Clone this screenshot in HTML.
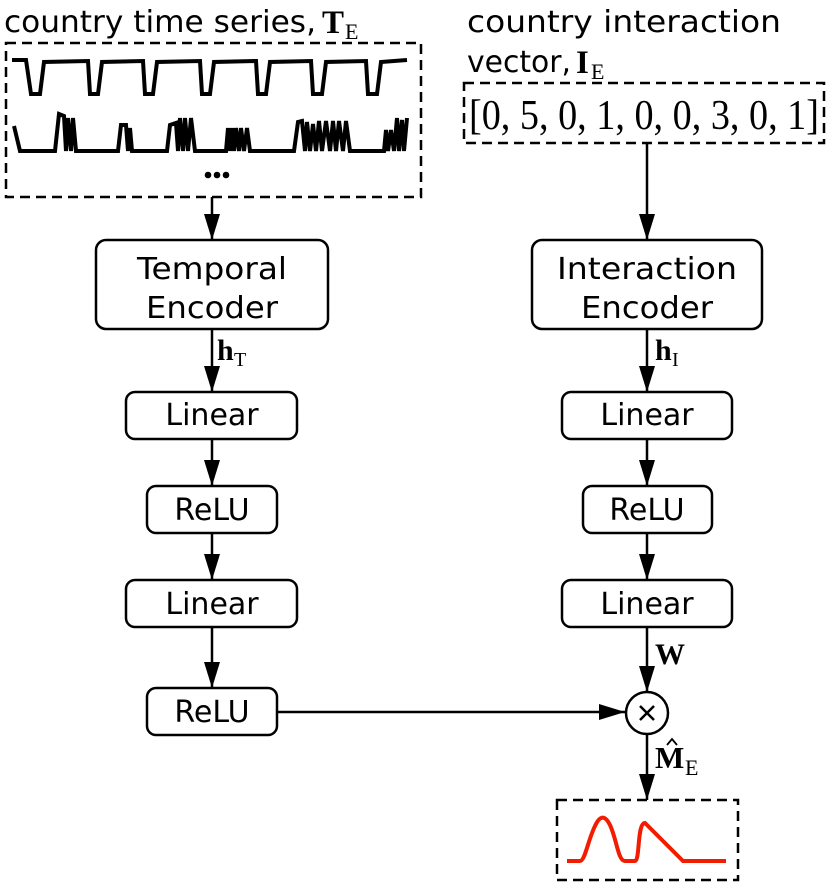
<!DOCTYPE html>
<html><head><meta charset="utf-8"><style>
html,body{margin:0;padding:0;background:#fff;}
svg{display:block;}
.s{font-family:"DejaVu Sans","Liberation Sans",sans-serif;font-size:30px;fill:#000;}
.m{font-family:"Liberation Serif",serif;fill:#000;}
</style></head><body>
<svg width="830" height="884" viewBox="0 0 830 884" xmlns="http://www.w3.org/2000/svg">
<defs>
<marker id="b" markerWidth="26" markerHeight="16" refX="26" refY="8" orient="auto" markerUnits="userSpaceOnUse"><path d="M0,0 L26,8 L0,16z" fill="#000"/></marker></defs>
<g fill="none" stroke="#000" stroke-width="2.5">
<rect x="6" y="43" width="415" height="154" stroke-dasharray="10,6"/>
<rect x="96" y="240" width="232" height="89" rx="10"/>
<rect x="126" y="392" width="171" height="47" rx="9"/>
<rect x="147" y="486" width="130" height="47" rx="9"/>
<rect x="126" y="580" width="171" height="47" rx="9"/>
<rect x="147" y="688" width="130" height="47" rx="9"/>
<line x1="212" y1="197" x2="212" y2="240" marker-end="url(#b)"/>
<line x1="212" y1="329" x2="212" y2="392" marker-end="url(#b)"/>
<line x1="212" y1="439" x2="212" y2="486" marker-end="url(#b)"/>
<line x1="212" y1="533" x2="212" y2="580" marker-end="url(#b)"/>
<line x1="212" y1="627" x2="212" y2="688" marker-end="url(#b)"/>
<line x1="277" y1="712" x2="625" y2="712" marker-end="url(#b)"/>
<rect x="464" y="83" width="360" height="60" stroke-dasharray="10,6"/>
<rect x="532" y="240" width="230" height="89" rx="10"/>
<rect x="562" y="392" width="170" height="47" rx="9"/>
<rect x="583" y="486" width="129" height="47" rx="9"/>
<rect x="562" y="580" width="170" height="47" rx="9"/>
<circle cx="647" cy="713" r="21"/>
<line x1="647" y1="143" x2="647" y2="240" marker-end="url(#b)"/>
<line x1="647" y1="329" x2="647" y2="392" marker-end="url(#b)"/>
<line x1="647" y1="439" x2="647" y2="486" marker-end="url(#b)"/>
<line x1="647" y1="533" x2="647" y2="580" marker-end="url(#b)"/>
<line x1="647" y1="627" x2="647" y2="692" marker-end="url(#b)"/>
<line x1="647" y1="734" x2="647" y2="800" marker-end="url(#b)"/>
<rect x="557" y="800" width="181" height="80" stroke-dasharray="10,6"/>
<path d="M640,706 L654,720 M654,706 L640,720" stroke-width="2.5"/>
<path stroke-width="4" d="M12,60 L26,60 L31,94 L40,94 L44,62 L88,61 L90,94 L98,94 L102,62 L143,61 L145,94 L153,94 L157,62 L200,61 L202,94 L210,94 L214,62 L256,61 L258,94 L266,94 L270,62 L311,61 L313,94 L322,94 L326,62 L366,61 L368,94 L377,94 L381,62 L407,60"/>
<path stroke-width="4" d="M14,126 L20,151 L55,151 L59,114 L64,116 L66,151 L68,118 L71,151 L73,118 L76,151 L118,151 L121,125 L126,125 L128,151 L130,128 L132,151 L167,151 L170,125 L176,123 L178,151 L180,118 L183,151 L185,118 L188,151 L191,118 L195,151 L226,151 L228,128 L230,151 L232,128 L234,151 L236,128 L239,151 L241,128 L244,151 L247,128 L250,151 L294,151 L298,122 L302,121 L305,151 L307,122 L310,151 L313,124 L316,151 L319,121 L322,151 L326,121 L330,151 L333,121 L336,151 L339,121 L343,151 L346,121 L350,151 L384,151 L386,130 L388,151 L391,130 L394,151 L397,118 L399,151 L402,120 L404,151 L407,118"/>
<path stroke="#f21c00" stroke-width="4" d="M567,861 L580,861 C585,861 588,840 595,826 C600,815 605,815 610,825 C617,840 618,861 625,861 L635,861 C640,861 637,823 645,823 L683,861 L726,861"/>
</g>
<circle cx="208" cy="175" r="3.3"/><circle cx="217" cy="175" r="3.3"/><circle cx="226" cy="175" r="3.3"/>
<text class="s" x="4" y="32" textLength="312" lengthAdjust="spacingAndGlyphs">country time series,</text>
<text class="m" x="322" y="33" font-size="33" font-weight="bold">T</text><text class="m" x="345" y="39" font-size="22">E</text>
<text class="s" x="467" y="32" textLength="314" lengthAdjust="spacingAndGlyphs">country interaction</text>
<text class="s" x="467" y="72" textLength="104" lengthAdjust="spacingAndGlyphs">vector,</text>
<text class="m" x="576" y="73" font-size="33" font-weight="bold">I</text><text class="m" x="591" y="79" font-size="22">E</text>
<text class="m" x="644" y="129" font-size="42" text-anchor="middle" textLength="350" lengthAdjust="spacingAndGlyphs">[0, 5, 0, 1, 0, 0, 3, 0, 1]</text>
<g class="s" text-anchor="middle">
<text x="212" y="279" textLength="150" lengthAdjust="spacingAndGlyphs">Temporal</text><text x="212" y="318" textLength="132" lengthAdjust="spacingAndGlyphs">Encoder</text>
<text x="647" y="279" textLength="180" lengthAdjust="spacingAndGlyphs">Interaction</text><text x="647" y="318" textLength="132" lengthAdjust="spacingAndGlyphs">Encoder</text>
<text x="212" y="425">Linear</text><text x="212" y="520">ReLU</text><text x="212" y="614">Linear</text><text x="212" y="722">ReLU</text>
<text x="647" y="425">Linear</text><text x="647" y="520">ReLU</text><text x="647" y="614">Linear</text>
</g>
<text class="m" x="217" y="360" font-size="30" font-weight="bold">h</text><text class="m" x="234" y="366" font-size="20">T</text>
<text class="m" x="655" y="360" font-size="30" font-weight="bold">h</text><text class="m" x="672" y="366" font-size="20">I</text>
<text class="m" x="655" y="664" font-size="30" font-weight="bold">W</text>
<text class="m" x="655" y="768" font-size="31" font-weight="bold">M</text>
<path d="M667,745 L672,739 L677,745" fill="none" stroke="#000" stroke-width="1.8"/>
<text class="m" x="685" y="775" font-size="22">E</text>
</svg>
</body></html>
